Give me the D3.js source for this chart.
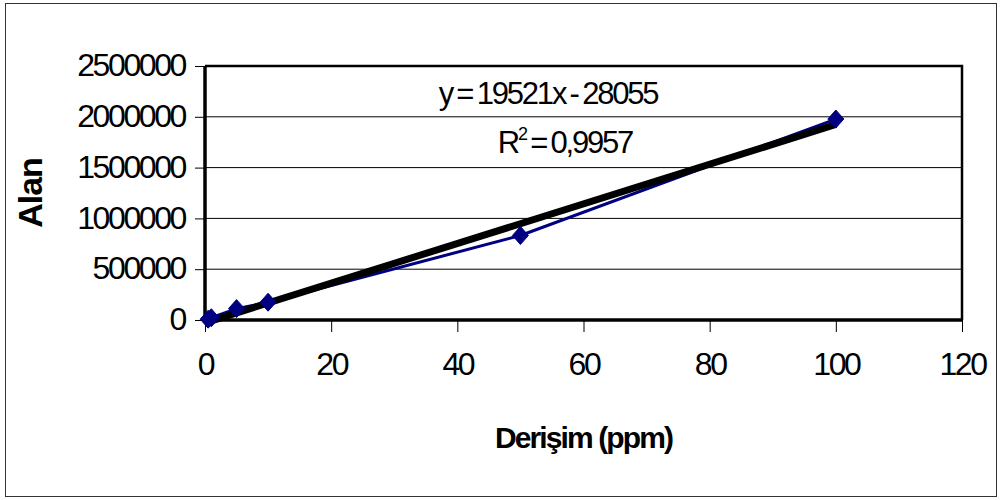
<!DOCTYPE html>
<html>
<head>
<meta charset="utf-8">
<script src="https://cdn.jsdelivr.net/npm/d3@7"></script>
<style>
  body { margin: 0; background: #fff; }
  text { font-family: 'Liberation Sans', Arial, sans-serif; fill: #000; }
  .tick-label { font-size: 32px; letter-spacing: -2.4px; }
  .axis-title { font-size: 30px; font-weight: bold; letter-spacing: -1.9px; }
  .eq { font-size: 31px; letter-spacing: -2.2px; word-spacing: -2px; }
</style>
</head>
<body>
<div id="chart"></div>
<script>
// measured points (konsantrasyon ppm / alan)
var concentrations = [0.5, 1, 5, 10, 50, 100];
var areas = [8000, 22000, 112000, 175000, 832000, 1978000];

// trendline from excel
var trendSlope = 19521;
var trendIntercept = -28055;
var trendRange = [0, 100];
var equationLabel = 'y = 19521x - 28055';
var r2Label = '0,9957';

var xTicks = [0, 20, 40, 60, 80, 100, 120];
var yTicks = [0, 500000, 1000000, 1500000, 2000000, 2500000];

var width = 1003, height = 500;
var margin = { top: 66, right: 41, bottom: 180, left: 205 };
var plotW = width - margin.left - margin.right;
var plotH = height - margin.top - margin.bottom;

var svg = d3.select('#chart')
  .append('svg')
  .attr('width', width)
  .attr('height', height);

// outer chart border
svg.append('rect')
  .attr('x', 5.5)
  .attr('y', 3.5)
  .attr('width', 991)
  .attr('height', 493)
  .attr('fill', 'none')
  .attr('stroke', '#333')
  .attr('stroke-width', 1);

var g = svg.append('g')
  .attr('transform', 'translate(' + margin.left + ',' + margin.top + ')');

var x = d3.scaleLinear().domain([0, 120]).range([0, plotW]);
var y = d3.scaleLinear().domain([0, 2500000]).range([plotH, 0]);

// gridlines
g.append('g')
  .selectAll('line')
  .data(yTicks)
  .enter().append('line')
  .attr('x1', 0)
  .attr('x2', plotW)
  .attr('y1', function(d) { return y(d); })
  .attr('y2', function(d) { return y(d); })
  .attr('stroke', '#000')
  .attr('stroke-width', 1);

// plot frame (top + right)
g.append('path')
  .attr('d', 'M0,0H' + plotW + 'V' + plotH)
  .attr('fill', 'none')
  .attr('stroke', '#000')
  .attr('stroke-width', 2.5);

// y axis
var yAxis = g.append('g')
  .call(d3.axisLeft(y).tickValues(yTicks).tickSize(10).tickPadding(10)
    .tickFormat(d3.format('d')));
yAxis.select('.domain').attr('stroke-width', 3.5).attr('d', 'M0,0V' + plotH);
yAxis.selectAll('.tick line').attr('stroke', '#000');
yAxis.selectAll('.tick text').attr('class', 'tick-label').attr('dy', '0.3em');

// x axis
var xAxis = g.append('g')
  .attr('transform', 'translate(0,' + plotH + ')')
  .call(d3.axisBottom(x).tickValues(xTicks).tickSize(12).tickPadding(20));
xAxis.select('.domain').attr('stroke-width', 3.5).attr('d', 'M0,0H' + plotW);
xAxis.selectAll('.tick line').attr('stroke', '#000');
xAxis.selectAll('.tick text').attr('class', 'tick-label');

// data line
var line = d3.line()
  .x(function(d, i) { return x(concentrations[i]); })
  .y(function(d) { return y(d); });

g.append('path')
  .datum(areas)
  .attr('d', line)
  .attr('fill', 'none')
  .attr('stroke', '#000080')
  .attr('stroke-width', 3);

// trendline
g.append('line')
  .attr('x1', x(trendRange[0]))
  .attr('y1', y(trendSlope * trendRange[0] + trendIntercept))
  .attr('x2', x(trendRange[1]))
  .attr('y2', y(trendSlope * trendRange[1] + trendIntercept))
  .attr('stroke', '#000')
  .attr('stroke-width', 7);

// markers
g.selectAll('.marker')
  .data(areas)
  .enter().append('path')
  .attr('class', 'marker')
  .attr('d', 'M0,-9L8,0L0,9L-8,0Z')
  .attr('transform', function(d, i) {
    return 'translate(' + x(concentrations[i]) + ',' + y(d) + ')';
  })
  .attr('fill', '#000080')
  .attr('stroke', '#000080')
  .attr('stroke-width', 1);

// equation labels
svg.append('text')
  .attr('class', 'eq')
  .attr('x', 548)
  .attr('y', 104)
  .attr('text-anchor', 'middle')
  .text(equationLabel);

var r2 = svg.append('text')
  .attr('class', 'eq')
  .attr('x', 565)
  .attr('y', 153)
  .attr('text-anchor', 'middle');
r2.append('tspan').text('R');
r2.append('tspan').attr('font-size', '18px').attr('dy', '-13').text('2');
r2.append('tspan').attr('dy', '13').text(' = ' + r2Label);

// axis titles
svg.append('text')
  .attr('class', 'axis-title')
  .attr('x', margin.left + plotW / 2)
  .attr('y', 448)
  .attr('text-anchor', 'middle')
  .text('Derişim (ppm)');

svg.append('text')
  .attr('class', 'axis-title')
  .style('font-size', '34px')
  .style('letter-spacing', '-1px')
  .attr('transform', 'translate(42,' + (margin.top + plotH / 2) + ') rotate(-90)')
  .attr('text-anchor', 'middle')
  .text('Alan');
</script>
</body>
</html>
